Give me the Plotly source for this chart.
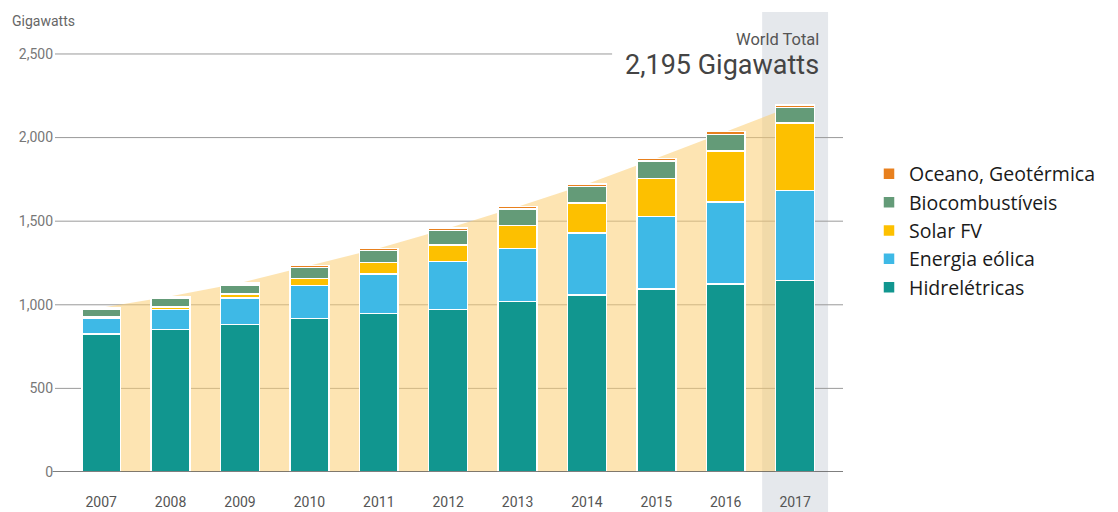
import plotly.graph_objects as go

# ---- data ----
years = ["2007", "2008", "2009", "2010", "2011", "2012", "2013", "2014", "2015", "2016", "2017"]
hydro = [825, 853, 881, 919, 949, 973, 1019, 1059, 1093, 1124, 1146]
wind = [94, 120, 160, 197, 235, 285, 319, 370, 434, 490, 537]
solar = [8, 15, 23, 40, 70, 100, 135, 180, 228, 305, 405]
bio = [45, 52, 55, 68, 72, 87, 100, 98, 105, 100, 92]
ocean_geo = [10, 11, 11, 12, 12, 13, 14, 15, 16, 16, 15]

y_ticks = [0, 500, 1000, 1500, 2000, 2500]
y_ticktext = [f"{v:,}" for v in y_ticks]

series_names = ["Hidrelétricas", "Energia eólica", "Solar FV", "Biocombustíveis", "Oceano, Geotérmica"]
series_values = [hydro, wind, solar, bio, ocean_geo]
series_colors = ["#11968F", "#3EB9E6", "#FDC000", "#649B78", "#E8801E"]

totals = [sum(v) for v in zip(*series_values)]

fig = go.Figure()

# beige total area (behind bars, on main axes)
fig.add_trace(go.Scatter(
    x=years, y=totals, mode="lines",
    line=dict(width=0, color="rgba(0,0,0,0)"),
    fill="tozeroy", fillcolor="rgba(251,206,115,0.55)",
    showlegend=False, hoverinfo="skip",
))

# stacked bars on overlaying axes, so they sit above the area
for name, vals, color in zip(series_names, series_values, series_colors):
    fig.add_trace(go.Bar(
        x=years, y=vals, name=name,
        marker=dict(color=color, line=dict(color="white", width=1.5)),
        xaxis="x2", yaxis="y2",
    ))

x_range = [-0.666, 10.69]
y_range = [0, 2751]

shapes = []
last = len(years) - 1
# highlight band for last year
shapes.append(dict(type="rect", xref="x", yref="paper",
                   x0=last - 0.475, x1=last + 0.475, y0=-0.1, y1=1,
                   fillcolor="#E5E8EC", line=dict(width=0), layer="below"))
# gridlines
for v in y_ticks[1:]:
    shapes.append(dict(type="line", xref="paper", yref="y",
                       x0=0, x1=(0.707 if v == y_ticks[-1] else 1), y0=v, y1=v,
                       line=dict(color="#9a9a9a", width=1), layer="between"))
# baseline
shapes.append(dict(type="line", xref="paper", yref="y", x0=-0.003, x1=1, y0=0, y1=0,
                   line=dict(color="#555555", width=1.5), layer="above"))

annotations = [
    dict(text="Gigawatts", xref="paper", yref="paper", x=-0.057, y=0.98,
         xanchor="left", yanchor="middle", showarrow=False,
         font=dict(family="Roboto", size=14, color="#666666")),
    dict(text="World Total", xref="paper", yref="paper", x=0.9725, y=0.941,
         xanchor="right", yanchor="middle", showarrow=False,
         font=dict(family="Roboto", size=16.5, color="#555555")),
    dict(text=f"{totals[-1]:,} Gigawatts", xref="paper", yref="paper", x=0.9725, y=0.885,
         xanchor="right", yanchor="middle", showarrow=False,
         font=dict(family="Roboto", size=27, color="#444444")),
]

fig.update_layout(
    width=1118, height=512,
    margin=dict(l=55, r=275, t=12, b=40, autoexpand=False),
    paper_bgcolor="white", plot_bgcolor="rgba(0,0,0,0)",
    barmode="stack", bargap=0.44,
    showlegend=True,
    legend=dict(
        x=1.033, xanchor="left", y=0.69, yanchor="top",
        traceorder="reversed", font=dict(family="Open Sans", size=19.5, color="#1a1a1a"),
        itemwidth=30, tracegroupgap=0, bgcolor="rgba(0,0,0,0)",
    ),
    xaxis=dict(type="category", range=x_range, showgrid=False, zeroline=False,
               showline=False, ticks="", ticklabelstandoff=20, automargin=False,
               tickfont=dict(family="Roboto", size=14, color="#555555")),
    xaxis2=dict(type="category", range=x_range, overlaying="x", visible=False),
    yaxis=dict(range=y_range, tickvals=y_ticks, ticktext=y_ticktext,
               showgrid=False, zeroline=False, showline=False, ticks="",
               ticklabelstandoff=1, automargin=False,
               tickfont=dict(family="Roboto", size=14, color="#777777")),
    yaxis2=dict(range=y_range, overlaying="y", visible=False),
    shapes=shapes,
    annotations=annotations,
)

fig.write_html("out.html")
